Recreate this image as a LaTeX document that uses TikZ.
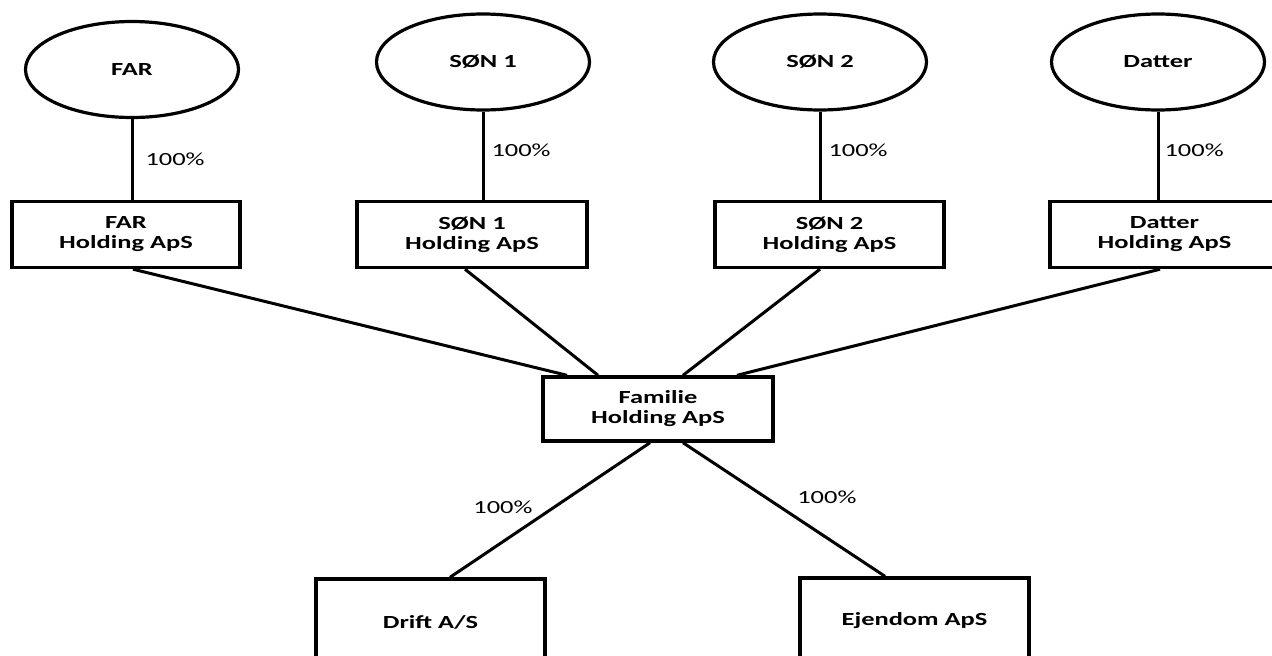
\documentclass[tikz,border=0pt]{standalone}
\usepackage{fontspec}
\setmainfont{Carlito}[FakeStretch=1.43]
\usetikzlibrary{shapes.geometric,calc}

\newcommand{\chartsize}{\fontsize{18.5}{20}\selectfont}

\tikzset{
  owner/.style={ellipse, draw, line width=3.2pt, inner sep=0pt,
    minimum width=213pt, minimum height=96pt, font=\chartsize\bfseries},
  company/.style={rectangle, draw, line width=3.4pt, inner sep=0pt,
    align=center, minimum height=66pt, font=\chartsize\bfseries},
  link/.style={line width=3pt},
  share/.style={inner sep=0pt, font=\chartsize\mdseries}
}

\begin{document}
\begin{tikzpicture}[x=1pt, y=-1pt]
  \useasboundingbox (0,0) rectangle (1272,656);
  \clip (0,0) rectangle (1272,656);

  % persons
  \node[owner] (far)  at (132,69.5) {FAR};
  \node[owner] (son1) at (483,62)   {SØN 1};
  \node[owner] (son2) at (820,62)   {SØN 2};
  \node[owner] (dat)  at (1158,62)  {Datter};

  % personal holding companies
  \node[company, minimum width=228pt] (farH)  at (126,234.5)  {FAR\\Holding ApS};
  \node[company, minimum width=230pt] (son1H) at (472,234.5)  {SØN 1\\Holding ApS};
  \node[company, minimum width=229pt] (son2H) at (829.5,234.5) {SØN 2\\Holding ApS};
  \node[company, minimum width=229pt] (datH)  at (1164.5,234.5) {Datter\\Holding ApS};

  % joint holding
  \node[company, minimum width=230pt, minimum height=64pt] (fam) at (658,409)
    {Familie\\Holding ApS};

  % subsidiaries
  \node[company, minimum width=229pt, minimum height=86pt] (drift) at (430.5,622) {Drift A/S};
  \node[company, minimum width=229pt, minimum height=86pt] (ejd)   at (914.5,621) {Ejendom ApS};

  % ownership of the personal holdings
  \draw[link] (far.south) -- node[share, pos=0.5, anchor=west, xshift=12pt] (pFar)
    {100\%} (far.south |- farH.north);
  \draw[link] (son1.south) -- node[share, pos=0.44, anchor=west, xshift=7pt] (pSon1)
    {100\%} (son1.south |- son1H.north);
  \draw[link] (son2.south) -- node[share, pos=0.44, anchor=west, xshift=7pt] (pSon2)
    {100\%} (son2.south |- son2H.north);
  \draw[link] (dat.south) -- node[share, pos=0.44, anchor=west, xshift=5pt] (pDat)
    {100\%} (dat.south |- datH.north);

  % holdings into the family holding
  \draw[link] ([xshift=7pt]farH.south)     -- ([xshift=-91pt]fam.north);
  \draw[link] ([xshift=-7pt]son1H.south)   -- ([xshift=-60pt]fam.north);
  \draw[link] ([xshift=-9.5pt]son2H.south) -- ([xshift=25pt]fam.north);
  \draw[link] ([xshift=-4.5pt]datH.south)  -- ([xshift=79pt]fam.north);

  % family holding into the subsidiaries
  \draw[link] ([xshift=-8pt]fam.south) -- node[share, pos=0.48, anchor=east, xshift=-20pt] (pDrift)
    {100\%} ([xshift=19.5pt]drift.north);
  \draw[link] ([xshift=25pt]fam.south) -- node[share, pos=0.41, anchor=west, xshift=30pt] (pEjd)
    {100\%} ([xshift=-29.5pt]ejd.north);
\end{tikzpicture}
\end{document}
